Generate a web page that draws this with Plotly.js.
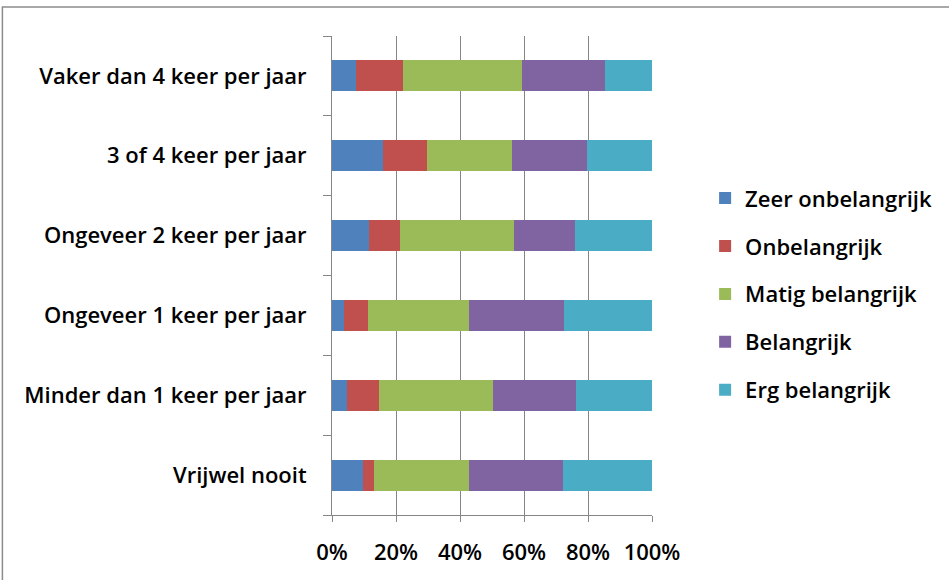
<!DOCTYPE html>
<html>
<head>
<meta charset="utf-8">
<script src="https://cdn.plot.ly/plotly-3.0.1.min.js"></script>
<style>html,body{margin:0;padding:0;background:#fff;}#chart{width:949px;height:580px;}</style>
</head>
<body>
<div id="chart"></div>
<script>
// Categories, bottom to top as drawn
const categories = [
  'Vrijwel nooit',
  'Minder dan 1 keer per jaar',
  'Ongeveer 1 keer per jaar',
  'Ongeveer 2 keer per jaar',
  '3 of 4 keer per jaar',
  'Vaker dan 4 keer per jaar'
];
const seriesNames = ['Zeer onbelangrijk', 'Onbelangrijk', 'Matig belangrijk', 'Belangrijk', 'Erg belangrijk'];
// Percentages per category (same order as categories)
const zeerOnbelangrijk = [9.6, 4.8, 3.7, 11.7, 16.0, 7.5];
const onbelangrijk     = [3.6, 10.0, 7.6, 9.5, 13.8, 14.8];
const matigBelangrijk  = [29.6, 35.5, 31.6, 35.6, 26.5, 37.1];
const belangrijk       = [29.4, 25.9, 29.7, 19.0, 23.5, 25.8];
const ergBelangrijk    = [27.8, 23.8, 27.4, 24.2, 20.2, 14.8];
const xTickValues = [0, 20, 40, 60, 80, 100];
const xTickLabels = ['0%', '20%', '40%', '60%', '80%', '100%'];

const seriesValues = [zeerOnbelangrijk, onbelangrijk, matigBelangrijk, belangrijk, ergBelangrijk];
const colors = ['#4F81BD', '#C0504D', '#9BBB59', '#8064A2', '#4BACC6'];

const FONT = '"Open Sans", Lato, sans-serif';
const TXT = {family: FONT, size: 22, color: '#000000', weight: 600};

const data = seriesNames.map((name, i) => ({
  type: 'bar',
  orientation: 'h',
  name: name,
  legendgroup: 'g' + i,
  x: seriesValues[i],
  y: categories,
  marker: {color: colors[i], line: {width: 0}},
  hoverinfo: 'name+x'
}));

const layout = {
  width: 949,
  height: 580,
  margin: {l: 332, r: 297, t: 36, b: 65},
  paper_bgcolor: '#ffffff',
  plot_bgcolor: '#ffffff',
  barmode: 'stack',
  bargap: 0.61,
  font: TXT,
  showlegend: true,
  legend: {
    x: 1.166, xanchor: 'left',
    y: 0.705, yanchor: 'top',
    traceorder: 'grouped',
    tracegroupgap: 16.3,
    font: TXT,
    bgcolor: 'rgba(0,0,0,0)'
  },
  xaxis: {
    range: [0, 100],
    tickvals: xTickValues,
    ticktext: xTickLabels,
    showgrid: true,
    gridcolor: '#868686',
    gridwidth: 1,
    zeroline: false,
    showline: true,
    linecolor: '#868686',
    linewidth: 1,
    ticks: 'outside',
    ticklen: 6,
    tickcolor: '#868686',
    ticklabelstandoff: 12,
    tickfont: TXT,
    fixedrange: true
  },
  yaxis: {
    type: 'category',
    categoryorder: 'array',
    categoryarray: categories,
    showgrid: false,
    zeroline: false,
    showline: true,
    linecolor: '#868686',
    linewidth: 1,
    ticks: 'outside',
    tickson: 'boundaries',
    ticklen: 8,
    tickcolor: '#868686',
    ticklabelstandoff: 20,
    tickfont: TXT,
    fixedrange: true
  },
  shapes: [{
    type: 'rect', xref: 'paper', yref: 'paper',
    x0: -1.03, x1: 2.5, y0: -0.4, y1: 1.0605,
    line: {color: '#8c8c8c', width: 1.5},
    fillcolor: 'rgba(0,0,0,0)',
    layer: 'below'
  }]
};

Plotly.newPlot('chart', data, layout, {displayModeBar: false, staticPlot: true});
</script>
</body>
</html>
